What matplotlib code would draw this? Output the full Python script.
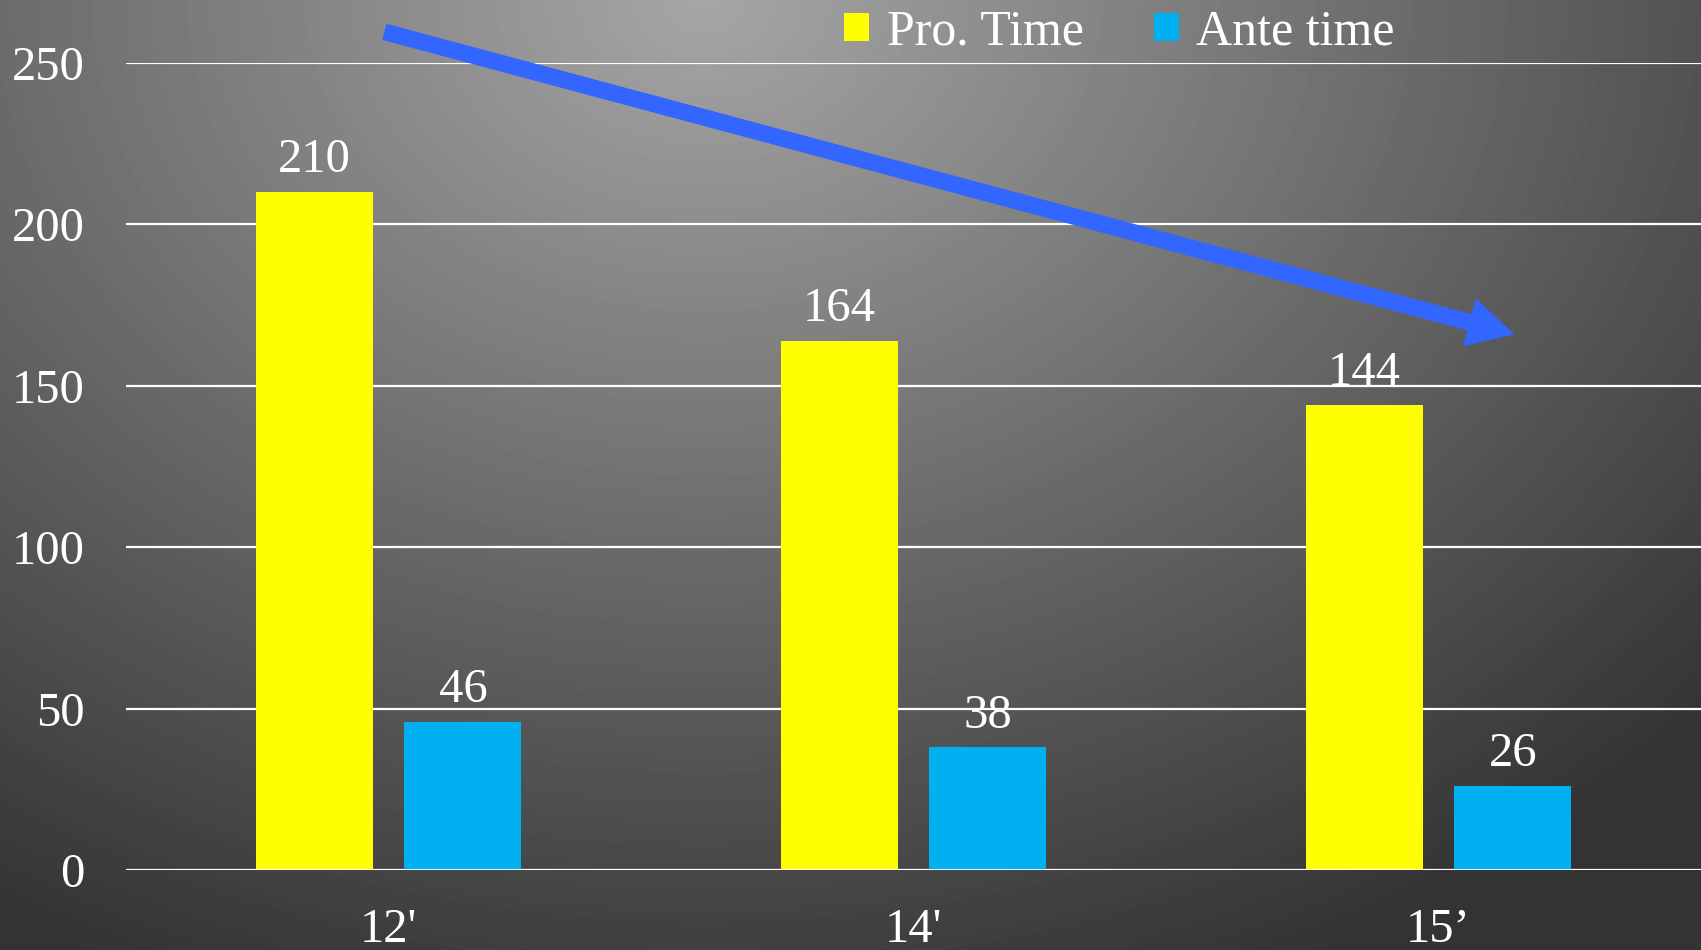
import numpy as np
import matplotlib.pyplot as plt

# dados
categorias = ["12'", "14'", "15\u2019"]
pro_time = [210, 164, 144]
ante_time = [46, 38, 26]
series = ['Pro. Time', 'Ante time']
cores = ['#ffff00', '#00b0f0']

plt.rcParams['font.family'] = ['Liberation Serif', 'DejaVu Serif']

fig = plt.figure(figsize=(17.01, 9.5), dpi=100)

# fundo com gradiente (claro em cima, escuro nos cantos)
bg = fig.add_axes([0, 0, 1, 1], zorder=-10)
yy, xx = np.mgrid[0:1:300j, 0:1.79:540j]
r = np.sqrt(((xx - 0.74) / 1.35) ** 2 + ((yy - 1.0) / 1.05) ** 2)
g = np.clip(0.65 - 0.42 * r, 0.2, 0.7)
bg.imshow(g, cmap='gray', vmin=0, vmax=1, origin='lower',
          extent=[0, 1, 0, 1], aspect='auto', interpolation='bicubic')
bg.axis('off')

ax = fig.add_axes([0.0741, 0.0842, 0.9259, 0.8495])
ax.set_facecolor('none')

x = np.arange(len(categorias))
w = 0.223
off = 0.1417
b1 = ax.bar(x - off, pro_time, w, color=cores[0], label=series[0], zorder=3)
b2 = ax.bar(x + off, ante_time, w, color=cores[1], label=series[1], zorder=3)
for b in (b1, b2):
    ax.bar_label(b, padding=7, color='white', fontsize=35)

ax.set_xlim(-0.5, 2.5)
ax.set_ylim(0, 250)
ax.set_yticks([0, 50, 100, 150, 200, 250])
ax.yaxis.grid(True, color='white', linewidth=1.6, zorder=1)
ax.set_axisbelow(True)
ax.set_xticks(x)
ax.set_xticklabels(categorias)
ax.tick_params(axis='y', length=0, pad=30, labelsize=35, labelcolor='white')
ax.tick_params(axis='x', length=0, pad=27, labelsize=35, labelcolor='white')
for s in ax.spines.values():
    s.set_visible(False)
ax.axhline(0, color='white', linewidth=2, zorder=4)

# seta de tendencia
ax.annotate('', xy=(1513 / 1701, 1 - 334 / 950), xycoords='figure fraction',
            xytext=(385 / 1701, 1 - 32 / 950), textcoords='figure fraction',
            arrowprops=dict(arrowstyle='simple,head_length=32,head_width=34,tail_width=11',
                            mutation_scale=1, color='#3366ff', shrinkA=0, shrinkB=0),
            annotation_clip=False, zorder=6)

leg = fig.legend(loc='center', bbox_to_anchor=(0.658, 0.966), ncol=2, frameon=False,
                 fontsize=36, labelcolor='white', handlelength=0.5, handleheight=0.5,
                 handletextpad=0.35, columnspacing=1.4)

fig.savefig('out.png', dpi=100)
